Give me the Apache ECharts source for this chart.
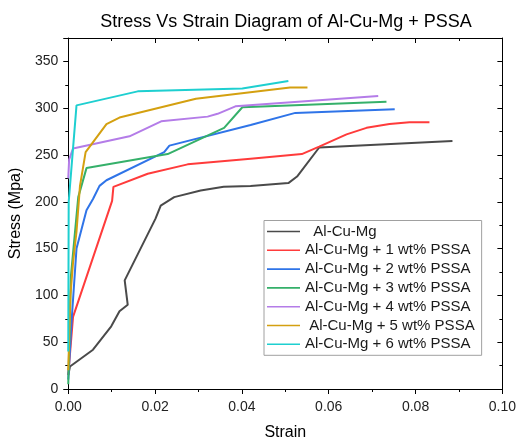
<!DOCTYPE html>
<html>
<head>
<meta charset="utf-8">
<script src="https://cdn.jsdelivr.net/npm/echarts@6/dist/echarts.min.js"></script>
<style>html,body{margin:0;padding:0;background:#fff}#c{width:519px;height:446px}</style>
</head>
<body>
<div id="c"></div>
<script>
// ---- data ----
const seriesNames = [
  '  Al-Cu-Mg',
  'Al-Cu-Mg + 1 wt% PSSA',
  'Al-Cu-Mg + 2 wt% PSSA',
  'Al-Cu-Mg + 3 wt% PSSA',
  'Al-Cu-Mg + 4 wt% PSSA',
  ' Al-Cu-Mg + 5 wt% PSSA',
  'Al-Cu-Mg + 6 wt% PSSA'
];
const strain0 = [0, 0.0004, 0.0057, 0.0099, 0.0118, 0.0137, 0.013, 0.0201, 0.0213, 0.0244, 0.0305, 0.0358, 0.042, 0.0507, 0.0527, 0.0578, 0.0885];
const stress0 = [15, 24, 42, 67, 83, 90, 116, 182, 196, 205, 212, 216, 217, 220, 227, 258, 265];
const strain1 = [0, 0.0011, 0.0101, 0.0104, 0.0183, 0.0275, 0.042, 0.0538, 0.0578, 0.0641, 0.0687, 0.074, 0.0786, 0.0832];
const stress1 = [15, 77, 201, 216, 230, 240, 246, 251, 259, 272, 279, 283, 285, 285];
const strain2 = [0, 0.0008, 0.0019, 0.0042, 0.0057, 0.0072, 0.0088, 0.0221, 0.0233, 0.042, 0.0523, 0.0752];
const stress2 = [10, 75, 150, 191, 203, 217, 223, 253, 260, 282, 295, 299];
const strain3 = [0, 0.0006, 0.0023, 0.0042, 0.0229, 0.0359, 0.0401, 0.0733];
const stress3 = [5, 120, 205, 236, 251, 279, 301, 307];
const strain4 = [0, 0.0002, 0.0011, 0.0141, 0.0214, 0.0321, 0.0344, 0.0385, 0.0714];
const stress4 = [225, 245, 257, 270, 286, 291, 294, 302, 313];
const strain5 = [0, 0.0005, 0.0011, 0.0019, 0.0027, 0.004, 0.0088, 0.0118, 0.0294, 0.0511, 0.0551];
const stress5 = [20, 100, 135, 168, 217, 253, 283, 290, 310, 322, 322];
const strain6 = [0, 0.0001, 0.0019, 0.016, 0.0401, 0.0507];
const stress6 = [40, 200, 303, 318, 321, 329];
const colors = ['#4a4a4a', '#ff3b3b', '#2f74e8', '#35b06a', '#b47ce8', '#d4a010', '#1ecfd0'];

const strains = [strain0, strain1, strain2, strain3, strain4, strain5, strain6];
const stresses = [stress0, stress1, stress2, stress3, stress4, stress5, stress6];

const chart = echarts.init(document.getElementById('c'), null, {renderer: 'canvas'});
const font = 'Liberation Sans, Arial, sans-serif';
const lineIcon = 'path://M0,0 L0.01,0 M0,6.2 L33,6.2 L33,7.8 L0,7.8 Z M0,14 L0.01,14';

const series = seriesNames.map((n, i) => ({
  name: n,
  type: 'line',
  xAxisIndex: 0,
  yAxisIndex: 0,
  symbol: 'none',
  showSymbol: false,
  animation: false,
  lineStyle: {width: 2, color: colors[i]},
  itemStyle: {color: colors[i]},
  data: strains[i].map((x, k) => [x, stresses[i][k]])
}));

const axisCommonX = {
  type: 'value', min: 0, max: 0.1, interval: 0.02,
  splitLine: {show: false},
  axisLine: {show: true, onZero: false, lineStyle: {color: '#000', width: 1}},
  minorTick: {show: true, splitNumber: 2, length: 3, lineStyle: {color: '#000'}},
};
const axisCommonY = {
  type: 'value', min: 0, max: 375, interval: 50,
  splitLine: {show: false},
  axisLine: {show: true, onZero: false, lineStyle: {color: '#000', width: 1}},
  minorTick: {show: true, splitNumber: 2, length: 3, lineStyle: {color: '#000'}},
};

chart.setOption({
  backgroundColor: '#fff',
  animation: false,
  title: {
    text: 'Stress Vs Strain Diagram of Al-Cu-Mg + PSSA',
    left: 281, textAlign: 'center', top: 8,
    textStyle: {fontFamily: font, fontSize: 18, fontWeight: 'normal', color: '#000'}
  },
  grid: {left: 66.5, right: 16, top: 38, bottom: 55, containLabel: false},
  legend: {
    orient: 'vertical',
    left: 264, top: 220.5,
    padding: [3.5, 7, 3.5, 3],
    itemWidth: 33, itemHeight: 14, itemGap: 3.8,
    borderColor: '#a0a0a0', borderWidth: 1,
    backgroundColor: '#fff',
    icon: lineIcon,
    textStyle: {fontFamily: font, fontSize: 15, color: '#1a1a1a', lineHeight: 15},
    data: seriesNames
  },
  xAxis: [
    Object.assign({}, axisCommonX, {
      position: 'bottom',
      name: 'Strain', nameLocation: 'middle', nameGap: 36,
      nameTextStyle: {fontFamily: font, fontSize: 16, color: '#000'},
      axisTick: {show: true, inside: false, length: 5, lineStyle: {color: '#000'}},
      minorTick: {show: true, splitNumber: 2, length: 3, lineStyle: {color: '#000'}},
      axisLabel: {fontFamily: font, fontSize: 14, color: '#222', margin: 11,
        formatter: v => v.toFixed(2)}
    }),
    Object.assign({}, axisCommonX, {
      position: 'top',
      axisTick: {show: true, inside: true, length: 5, lineStyle: {color: '#000'}},
      minorTick: {show: true, splitNumber: 2, length: 3, lineStyle: {color: '#000'}},
      axisLabel: {show: false}
    })
  ],
  yAxis: [
    Object.assign({}, axisCommonY, {
      position: 'left',
      name: 'Stress (Mpa)', nameLocation: 'middle', nameGap: 42,
      nameTextStyle: {fontFamily: font, fontSize: 16, color: '#000'},
      axisTick: {show: true, inside: false, length: 5, lineStyle: {color: '#000'}},
      axisLabel: {fontFamily: font, fontSize: 14, color: '#222', margin: 10, showMaxLabel: false}
    }),
    Object.assign({}, axisCommonY, {
      position: 'right',
      axisTick: {show: true, inside: true, length: 5, lineStyle: {color: '#000'}},
      axisLabel: {show: false}
    })
  ],
  series: series
});
</script>
</body>
</html>
